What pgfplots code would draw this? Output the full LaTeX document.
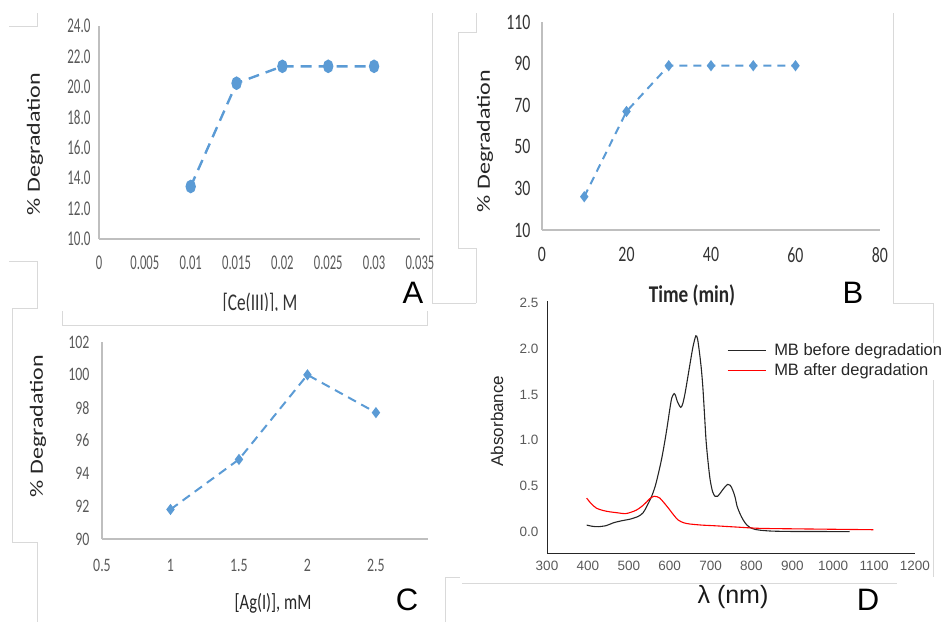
\documentclass[border=0pt]{standalone}
\usepackage{pgfplots}
\pgfplotsset{compat=1.18}
\usepackage{fontspec}
\usepackage{graphicx}
\setmainfont{Carlito}
\newfontfamily\arial{Liberation Sans}

\definecolor{xlblue}{HTML}{5B9BD5}
\definecolor{xlaxis}{HTML}{BFBFBF}
\definecolor{xltext}{HTML}{595959}

\newcommand{\fs}[1]{\fontsize{#1}{#1}\selectfont}

\pgfplotsset{
  /pgf/number format/assume math mode=true,
  xlpanel/.style={
    scale only axis, anchor=south west, clip=false,
    axis lines=left, axis line style={-, draw=xlaxis, line width=1.3pt},
    major tick length=0pt, tick style={draw=none},
    tick label style={text=xltext},
    scaled ticks=false,
  },
}

\begin{document}
\begin{tikzpicture}[x=1pt,y=1pt]
\path[use as bounding box] (0,0) rectangle (943,-622);

% faint frames of the pasted chart areas
\begin{scope}[draw=black!15, line width=0.6pt]
\draw (9,-26) -- (37,-26) -- (37,-13);
\draw (9,-261) -- (37,-261) -- (37,-308) -- (12,-308);
\draw (432,-13) -- (432,-303) -- (476,-303);
\draw (476,-13) -- (476,-32) -- (458,-32) -- (458,-248) -- (476,-248) -- (476,-303);
\draw (893,-13) -- (893,-303) -- (933,-303) -- (933,-343);
\draw (933,-380) -- (933,-577);
\draw (462,-583) -- (897,-583);
\draw (12,-308) -- (12,-542) -- (37,-542) -- (37,-622);
\draw (445,-622) -- (445,-577) -- (460,-577);
\end{scope}

% A
\begin{axis}[xlpanel, at={(99pt,-239pt)}, width=321pt, height=213pt,
  xmin=0, xmax=0.03501, ymin=10, ymax=24,
  xtick={0,0.005,0.01,0.015,0.02,0.025,0.03,0.035},
  ytick={10,12,14,16,18,20,22,24},
  tick label style={font=\fs{21}},
  xticklabel={\scalebox{0.6}[1]{\pgfmathprintnumber[fixed,precision=3]{\tick}}},
  yticklabel={\scalebox{0.62}[1]{\pgfmathprintnumber[fixed,fixed zerofill,precision=1]{\tick}}},
  yticklabel style={xshift=-5pt},
  xticklabel style={yshift=-13pt},
]
\addplot[xlblue, line width=2.4pt, dash pattern=on 11pt off 7pt,
  mark=*, mark size=5.5pt, mark options={solid, xscale=0.72}]
  coordinates {(0.01,13.45) (0.015,20.24) (0.02,21.35) (0.025,21.35) (0.03,21.35)};
\end{axis}
\node[rotate=90, text=black!85] at (35,-144) {\scalebox{1}[0.78]{\fs{24}\% Degradation}};
\node[text=black!80] at (260,-303) {\scalebox{0.72}[1]{\fs{24}[Ce(III)], M}};
\node at (413,-293) {\arial\fs{31}A};

% B
\begin{axis}[xlpanel, at={(542pt,-230pt)}, width=338pt, height=208pt,
  xmin=0, xmax=80, ymin=10, ymax=110,
  xtick={0,20,40,60,80},
  ytick={10,30,50,70,90,110},
  tick label style={font=\fs{22}},
  xticklabel={\scalebox{0.72}[1]{\pgfmathprintnumber{\tick}}},
  yticklabel={\scalebox{0.72}[1]{\pgfmathprintnumber{\tick}}},
  yticklabel style={xshift=-8pt, text=black!80},
  xticklabel style={yshift=-14pt, text=black!80},
]
\addplot[xlblue, line width=2pt, dash pattern=on 8pt off 6pt,
  mark=diamond*, mark size=4pt, mark options={solid}]
  coordinates {(10,26) (20,67) (30,89) (40,89) (50,89) (60,89)};
\end{axis}
\node[rotate=90, text=black!85] at (485,-141) {\scalebox{1}[0.78]{\fs{24}\% Degradation}};
\node[text=black!85] at (692,-295) {\scalebox{0.8}[1]{\fs{24}\bfseries Time (min)}};
\node at (853,-293) {\arial\fs{31}B};

% C
\begin{axis}[xlpanel, at={(102pt,-539pt)}, width=326pt, height=197pt,
  xmin=0.5, xmax=2.88, ymin=90, ymax=102,
  xtick={0.5,1,1.5,2,2.5},
  ytick={90,92,94,96,98,100,102},
  tick label style={font=\fs{19}},
  xticklabel={\scalebox{0.73}[1]{\pgfmathprintnumber{\tick}}},
  yticklabel={\scalebox{0.73}[1]{\pgfmathprintnumber{\tick}}},
  yticklabel style={xshift=-9pt},
  xticklabel style={yshift=-17pt},
]
\addplot[xlblue, line width=2pt, dash pattern=on 9pt off 6pt,
  mark=diamond*, mark size=4pt, mark options={solid}]
  coordinates {(1,91.8) (1.5,94.85) (2,100) (2.5,97.7)};
\end{axis}
% sheet over the bottom of the A axis title
\fill[white] (62,-311) rectangle (427,-325);
\draw[black!15, line width=0.6pt] (62,-311) -- (62,-325) -- (427,-325) -- (427,-311);
\node[rotate=90, text=black!85] at (38,-426) {\scalebox{1}[0.78]{\fs{24}\% Degradation}};
\node[text=black!85] at (273,-603) {\scalebox{0.75}[1]{\fs{22}[Ag(I)], mM}};
\node at (407,-600) {\arial\fs{31}C};

% D
\begin{axis}[at={(547pt,-553pt)}, anchor=south west, scale only axis,
  width=368pt, height=252pt,
  xmin=300, xmax=1200, ymin=-0.229, ymax=2.52,
  axis lines=left, axis line style={-, black!85, line width=0.8pt},
  major tick length=0pt, tick style={draw=none},
  xtick={300,400,500,600,700,800,900,1000,1100,1200},
  ytick={0,0.5,1,1.5,2,2.5},
  tick label style={font=\arial\fs{13.5}, text=xltext},
  yticklabel={\pgfmathprintnumber[fixed,fixed zerofill,precision=1]{\tick}},
  xticklabel={\pgfmathprintnumber[fixed,1000 sep={}]{\tick}},
  yticklabel style={xshift=-5pt},
  xticklabel style={yshift=-5pt},
  legend cell align=left,
  legend image code/.code={\draw[#1] (0pt,0pt) -- (38pt,0pt); \path (43pt,0pt);},
  legend style={at={(rel axis cs:0.489,0.842)}, anchor=north west,
    draw=none, fill=none, inner sep=0pt, row sep=0pt,
    font=\arial\fs{16.5}, text=black!85, nodes={inner sep=3pt}},
]
\addplot[black!85, line width=1.1pt, smooth, tension=0.5] coordinates {
  (397,0.076) (410,0.063) (425,0.058) (445,0.07) (462,0.10) (485,0.125)
  (503,0.14) (523,0.17) (535,0.21) (544,0.28) (555,0.38) (564,0.49)
  (572,0.63) (580,0.79) (587,0.96) (594,1.15) (600,1.33) (605,1.46)
  (611,1.51) (615,1.48) (619,1.42) (627,1.36) (632,1.40) (637.5,1.51)
  (644,1.68) (650,1.84) (657,2.02) (664,2.14) (668,2.11) (672,1.99)
  (677,1.80) (681,1.59) (685,1.30) (689,1.00) (694,0.76) (699,0.57)
  (705,0.44) (711,0.39) (717,0.39) (723,0.42) (733,0.48) (742,0.52)
  (748,0.51) (754,0.46) (760,0.38) (765,0.28) (772,0.20) (780,0.13)
  (788,0.08) (796,0.05) (808,0.03) (821,0.02) (850,0.01) (900,0.006)
  (1000,0.005) (1040,0.005)};
\addlegendentry{MB before degradation}
\addplot[red, line width=1.1pt, smooth, tension=0.5] coordinates {
  (397,0.37) (408,0.31) (421,0.26) (437,0.235) (454,0.22) (472,0.21)
  (491,0.20) (505,0.215) (519,0.24) (532,0.28) (544,0.33) (553,0.37)
  (562,0.39) (569,0.385) (576,0.37) (586,0.32) (597,0.26) (609,0.19)
  (621,0.13) (635,0.10) (650,0.087) (680,0.075) (707,0.069) (760,0.055)
  (821,0.04) (900,0.035) (1000,0.03) (1098,0.025)};
\addlegendentry{MB after degradation}
\end{axis}
\node[rotate=90, text=black!85] at (497,-421) {\arial\fs{17}Absorbance};
\node[text=black!90] at (733,-597) {\arial\fs{25}λ (nm)};
\node at (868,-600) {\arial\fs{31}D};

\end{tikzpicture}
\end{document}
